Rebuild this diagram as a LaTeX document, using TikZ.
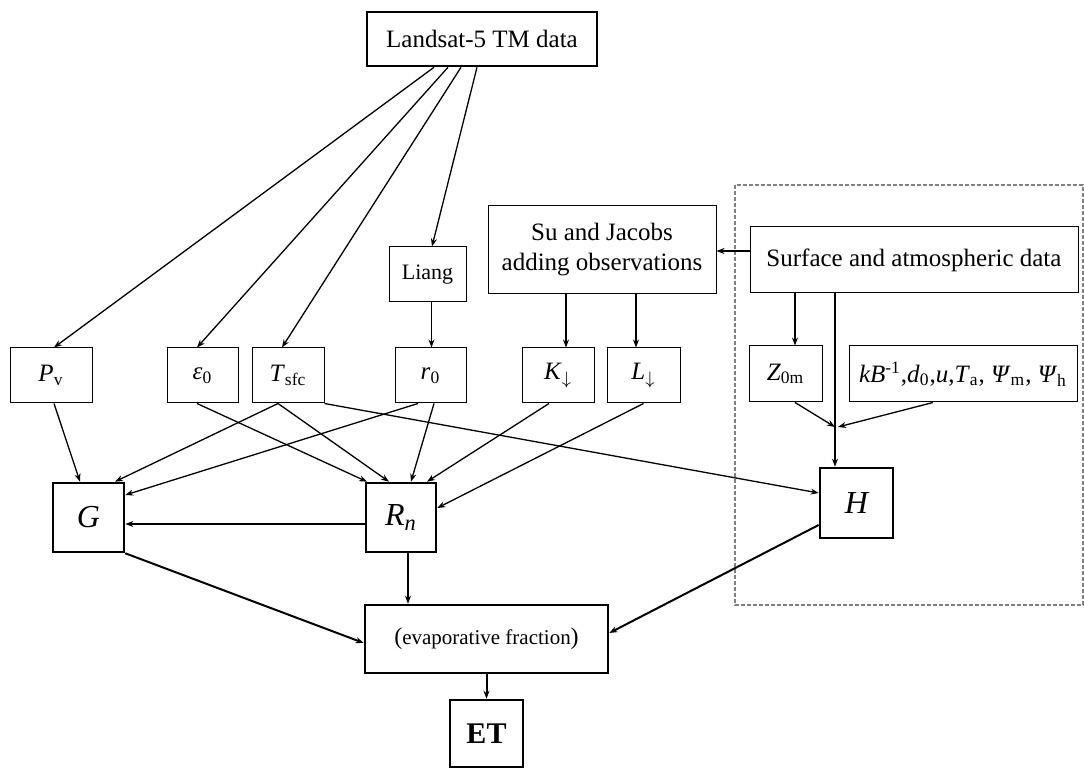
\documentclass[tikz,border=0pt]{standalone}
\usepackage{amsmath}
\usepackage{fontspec}
\setmainfont{Liberation Serif}
\usetikzlibrary{arrows.meta}

\begin{document}
\begin{tikzpicture}[x=0.5pt, y=-0.5pt,
    box/.style={draw, line width=0.5pt, inner sep=0pt, align=center,
        font=\fontsize{12.5}{15}\selectfont},
    bbox/.style={box, line width=1.3pt},
    flux/.style={bbox, font=\fontsize{16}{18}\selectfont\itshape},
    arr/.style={line width=0.65pt, -{Stealth[length=4pt, width=3pt]}},
    tarr/.style={arr, line width=1pt}]
    \useasboundingbox (0,0) rectangle (1084,769);

    % Dashed frame round the surface data
    \draw[gray, line width=0.6pt, dash pattern=on 2pt off 1pt] (735,185) rectangle (1083,605);

    % Sources
    \node[bbox, minimum width=115pt, minimum height=27pt] (land) at (482,39) {Landsat-5 TM data};
    \node[box, minimum width=38.5pt, minimum height=27.5pt, font=\fontsize{11}{13}\selectfont] (liang) at (427.5,274.5) {Liang};
    \node[box, minimum width=114pt, minimum height=44pt] (su) at (602,250) {Su and Jacobs\\adding observations};
    \node[box, minimum width=164pt, minimum height=33pt] (surf) at (914,260) {Surface and atmospheric data};

    % Parameters
    \node[box, minimum width=41pt, minimum height=27.5pt] (pv) at (51,375.5) {\textit{P}\textsubscript{v}};
    \node[box, minimum width=35.5pt, minimum height=27.5pt] (eps) at (202.5,375.5) {\textit{ε}\textsubscript{0}};
    \node[box, minimum width=36pt, minimum height=27.5pt] (tsfc) at (288,375.5) {\textit{T}\textsubscript{sfc}};
    \node[box, minimum width=35.5pt, minimum height=27.5pt] (r0) at (430.5,375.5) {\textit{r}\textsubscript{0}};
    \node[box, minimum width=36pt, minimum height=27.5pt] (k1) at (558,375.5) {\textit{K}$_{\downarrow}$};
    \node[box, minimum width=36.5pt, minimum height=27.5pt] (l1) at (643.5,375.5) {\textit{L}$_{\downarrow}$};
    \node[box, minimum width=36.5pt, minimum height=28pt] (z0m) at (785.5,374) {\textit{Z}\textsubscript{0m}};
    \node[box, minimum width=114pt, minimum height=28pt] (kb) at (963,374)
        {\textit{kB}\textsuperscript{-1},\textit{d}\textsubscript{0},\textit{u},\textit{T}\textsubscript{a}, \textit{Ψ}\textsubscript{m}, \textit{Ψ}\textsubscript{h}};
    \coordinate (join) at (835,427);

    % Fluxes
    \node[flux, minimum width=35.5pt, minimum height=34.5pt] (G) at (88.5,517.5) {G};
    \node[flux, minimum width=35pt, minimum height=34.5pt] (Rn) at (401,517.5) {R\textsubscript{n}};
    \node[flux, minimum width=36.5pt, minimum height=35pt] (H) at (856.5,503) {H};
    \node[bbox, minimum width=121.5pt, minimum height=34pt, font=\fontsize{10.5}{13}\selectfont] (ef) at (486.5,639)
        {{\large(}evaporative fraction{\large)}};
    \node[bbox, minimum width=36.5pt, minimum height=33.5pt, font=\fontsize{15}{17}\bfseries] (et) at (486.5,733.5) {ET};

    % From Landsat
    \draw[arr] ([xshift=-24pt]land.south) -- ([xshift=1.5pt]pv.north);
    \draw[arr] ([xshift=-17pt]land.south) -- ([xshift=-2.75pt]eps.north);
    \draw[arr] ([xshift=-10.5pt]land.south) -- ([xshift=-3pt]tsfc.north);
    \draw[arr] ([xshift=-2.5pt]land.south) -- ([xshift=2.25pt]liang.north);
    \draw[arr] ([xshift=2pt]liang.south) -- ([xshift=2pt]liang.south |- r0.north);
    \draw[arr] ([xshift=4pt]k1.north |- su.south) -- ([xshift=4pt]k1.north);
    \draw[arr] ([xshift=-3.75pt]l1.north |- su.south) -- ([xshift=-3.75pt]l1.north);

    % Surface data
    \draw[arr] ([yshift=4.5pt]surf.west) -- ([yshift=4.5pt]surf.west -| su.east);
    \draw[arr] ([xshift=4.75pt]z0m.north |- surf.south) -- ([xshift=4.75pt]z0m.north);
    \draw[line width=0.65pt] (join |- surf.south) -- (join);
    \draw[arr] ([xshift=4.75pt]z0m.south) -- (join);
    \draw[arr] ([xshift=-15pt]kb.south) -- ([xshift=1.5pt]join);
    \draw[arr] (join) -- (join |- H.north);

    % To G, Rn and H
    \draw[arr] ([xshift=1.5pt]pv.south) -- ([xshift=-4.25pt]G.north);
    \draw[arr] ([xshift=-2.75pt]eps.south) -- ([xshift=-17pt]Rn.north);
    \draw[arr] ([xshift=-5pt]tsfc.south) -- ([xshift=13.25pt]G.north);
    \draw[arr] ([xshift=-5pt]tsfc.south) -- ([xshift=-6pt]Rn.north);
    \draw[arr] (tsfc.south east) -- ([yshift=5pt]H.west);
    \draw[arr] ([xshift=-6.25pt]r0.south) -- ([yshift=11.25pt]G.east);
    \draw[arr] ([xshift=1.75pt]r0.south) -- ([xshift=5pt]Rn.north);
    \draw[arr] ([xshift=-4.5pt]k1.south) -- ([xshift=13pt]Rn.north);
    \draw[arr] (l1.south) -- ([yshift=4.75pt]Rn.east);
    \draw[tarr] ([yshift=-3.25pt]Rn.west) -- ([yshift=-3.25pt]Rn.west -| G.east);

    % To evaporative fraction and ET
    \draw[tarr] ([xshift=3.5pt]Rn.south) -- ([xshift=3.5pt]Rn.south |- ef.north);
    \draw[tarr] (G.south east) -- ([yshift=-2pt]ef.west);
    \draw[tarr] ([yshift=-11pt]H.west) -- ([yshift=3pt]ef.east);
    \draw[tarr] (ef.south) -- (et.north);
\end{tikzpicture}
\end{document}
